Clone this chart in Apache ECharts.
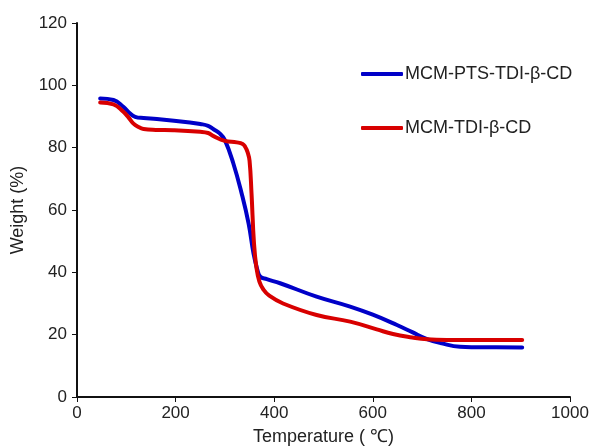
<!DOCTYPE html>
<html>
<head>
<meta charset="utf-8">
<script src="https://cdn.jsdelivr.net/npm/echarts@6/dist/echarts.min.js"></script>
<style>html,body{margin:0;padding:0;background:#fff;}#c{width:589px;height:446px;}</style>
</head>
<body>
<div id="c"></div>
<script>
const seriesNames = ['MCM-PTS-TDI-\u03b2-CD', 'MCM-TDI-\u03b2-CD'];
const blueTemp = [47, 74, 94, 106, 118, 135, 162, 229, 250, 266, 277, 290, 300, 317, 334, 348, 358, 366, 372, 385, 412, 486, 554, 600, 649, 680, 710, 740, 777, 800, 850, 903];
const blueWeight = [95.8, 95.3, 93.1, 91.2, 89.9, 89.5, 89.2, 88.1, 87.6, 87, 85.9, 84.5, 82.4, 75, 65.3, 55.7, 46.1, 40.7, 38.6, 37.8, 36.5, 32.2, 29, 26.4, 23.1, 20.8, 18.6, 17.2, 16.1, 16, 16, 15.9];
const redTemp = [47, 74, 94, 104, 114, 125, 135, 160, 195, 250, 266, 277, 300, 324, 336, 341, 346, 350, 354, 359, 364, 370, 378, 390, 418, 486, 554, 608, 641, 680, 710, 750, 800, 850, 903];
const redWeight = [94.5, 93.9, 91.5, 89.8, 87.8, 86.6, 86, 85.7, 85.6, 85.1, 84.7, 83.7, 82.2, 81.7, 81.2, 80.3, 78.6, 75.8, 65.3, 49.3, 41.5, 37, 34.5, 32.5, 30, 26.3, 24.2, 21.7, 20.2, 19.1, 18.5, 18.3, 18.3, 18.3, 18.3];
const xTicks = [0, 200, 400, 600, 800, 1000];
const yTicks = [0, 20, 40, 60, 80, 100, 120];

const pair = (xs, ys) => xs.map((x, i) => [x, ys[i]]);
const font = 'Liberation Sans, Arial, Helvetica, sans-serif';
const chart = echarts.init(document.getElementById('c'));
chart.setOption({
  animation: false,
  backgroundColor: '#fff',
  grid: {left: 77, right: 19, top: 23, bottom: 49, outerBoundsMode: 'none', containLabel: false},
  legend: {
    orient: 'vertical', left: 356, top: 60, itemGap: 36,
    itemWidth: 42, itemHeight: 4, icon: 'roundRect',
    textStyle: {fontFamily: font, fontSize: 18, color: '#222', padding: [0, 0, 0, -3]},
    data: seriesNames
  },
  xAxis: {
    type: 'value', min: xTicks[0], max: xTicks[xTicks.length - 1], interval: 200,
    name: 'Temperature ( \u2103)', nameLocation: 'middle', nameGap: 31,
    nameTextStyle: {fontFamily: font, fontSize: 18, color: '#222'},
    axisLine: {lineStyle: {color: '#111', width: 2}},
    axisTick: {show: true, length: 5, lineStyle: {color: '#111', width: 1}},
    axisLabel: {fontFamily: font, fontSize: 17, color: '#222', margin: 8, formatter: v => String(v)},
    splitLine: {show: false}
  },
  yAxis: {
    type: 'value', min: yTicks[0], max: yTicks[yTicks.length - 1], interval: 20,
    name: 'Weight (%)', nameLocation: 'middle', nameGap: 50, nameRotate: 90,
    nameTextStyle: {fontFamily: font, fontSize: 18, color: '#222'},
    axisLine: {show: true, lineStyle: {color: '#111', width: 2}},
    axisTick: {show: true, length: 5, lineStyle: {color: '#111', width: 1}},
    axisLabel: {fontFamily: font, fontSize: 17, color: '#222', margin: 10},
    splitLine: {show: false}
  },
  series: [
    {name: seriesNames[0], type: 'line', data: pair(blueTemp, blueWeight), smooth: 0.45,
     showSymbol: false, color: '#0000c8', lineStyle: {width: 4, cap: 'round', join: 'round', color: '#0000c8'}},
    {name: seriesNames[1], type: 'line', data: pair(redTemp, redWeight), smooth: 0.45,
     showSymbol: false, color: '#d80000', lineStyle: {width: 4, cap: 'round', join: 'round', color: '#d80000'}}
  ]
});
</script>
</body>
</html>
